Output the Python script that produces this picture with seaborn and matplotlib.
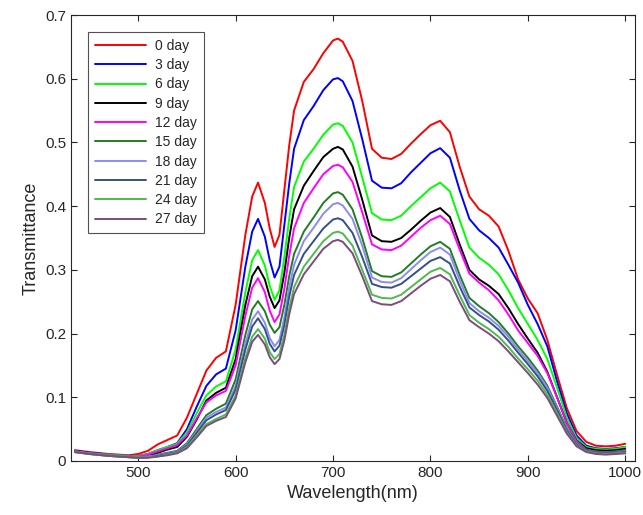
import pandas as pd
import matplotlib
matplotlib.use("Agg")
import matplotlib.pyplot as plt
import seaborn as sns

#data
wavelength = [435, 450, 470, 490, 500, 510, 520, 530, 540, 550,
              560, 570, 580, 590, 600, 610, 617, 623, 630, 635,
              640, 645, 650, 655, 660, 670, 680, 690, 700, 705,
              710, 720, 730, 740, 750, 760, 770, 780, 790, 800,
              810, 820, 830, 840, 850, 860, 870, 880, 890, 900,
              910, 920, 930, 940, 950, 960, 970, 980, 990, 1000]

day0 = [0.017, 0.014, 0.011, 0.009, 0.011, 0.016, 0.026, 0.033, 0.040, 0.068,
        0.105, 0.142, 0.162, 0.172, 0.245, 0.355, 0.415, 0.437, 0.405, 0.365,
        0.336, 0.355, 0.425, 0.495, 0.550, 0.595, 0.615, 0.640, 0.660, 0.663,
        0.658, 0.628, 0.565, 0.490, 0.476, 0.474, 0.482, 0.498, 0.513, 0.527,
        0.534, 0.516, 0.462, 0.415, 0.395, 0.385, 0.368, 0.330, 0.285, 0.255,
        0.232, 0.190, 0.135, 0.083, 0.047, 0.030, 0.024, 0.023, 0.024, 0.027]
day3 = [0.016, 0.013, 0.010, 0.008, 0.008, 0.011, 0.017, 0.022, 0.028, 0.050,
        0.085, 0.118, 0.136, 0.145, 0.205, 0.305, 0.360, 0.380, 0.352, 0.315,
        0.288, 0.305, 0.370, 0.435, 0.490, 0.535, 0.557, 0.582, 0.599, 0.601,
        0.596, 0.565, 0.505, 0.440, 0.429, 0.428, 0.436, 0.453, 0.468, 0.483,
        0.491, 0.476, 0.425, 0.380, 0.362, 0.350, 0.335, 0.308, 0.280, 0.245,
        0.215, 0.180, 0.125, 0.075, 0.040, 0.024, 0.020, 0.019, 0.020, 0.022]
day6 = [0.015, 0.012, 0.010, 0.008, 0.008, 0.011, 0.017, 0.022, 0.027, 0.045,
        0.075, 0.103, 0.117, 0.125, 0.175, 0.265, 0.315, 0.331, 0.307, 0.275,
        0.253, 0.268, 0.320, 0.380, 0.430, 0.470, 0.490, 0.512, 0.528, 0.530,
        0.526, 0.500, 0.445, 0.389, 0.379, 0.378, 0.385, 0.400, 0.414, 0.428,
        0.437, 0.423, 0.378, 0.335, 0.319, 0.308, 0.293, 0.268, 0.240, 0.215,
        0.190, 0.160, 0.115, 0.068, 0.036, 0.022, 0.019, 0.018, 0.019, 0.022]
day9 = [0.015, 0.012, 0.009, 0.007, 0.006, 0.008, 0.013, 0.018, 0.022, 0.038,
        0.065, 0.095, 0.107, 0.115, 0.160, 0.245, 0.290, 0.305, 0.285, 0.258,
        0.240, 0.252, 0.295, 0.350, 0.395, 0.432, 0.455, 0.477, 0.490, 0.493,
        0.489, 0.462, 0.410, 0.354, 0.345, 0.344, 0.350, 0.363, 0.377, 0.390,
        0.397, 0.383, 0.340, 0.300, 0.285, 0.275, 0.262, 0.240, 0.215, 0.192,
        0.170, 0.140, 0.100, 0.060, 0.032, 0.020, 0.017, 0.016, 0.017, 0.019]
day12 = [0.015, 0.012, 0.009, 0.007, 0.007, 0.010, 0.015, 0.020, 0.025, 0.040,
         0.067, 0.092, 0.103, 0.110, 0.150, 0.228, 0.272, 0.287, 0.265, 0.236,
         0.218, 0.230, 0.270, 0.322, 0.365, 0.405, 0.428, 0.450, 0.463, 0.465,
         0.461, 0.438, 0.390, 0.340, 0.332, 0.331, 0.338, 0.352, 0.366, 0.378,
         0.385, 0.372, 0.332, 0.294, 0.280, 0.268, 0.252, 0.230, 0.205, 0.185,
         0.165, 0.138, 0.100, 0.060, 0.031, 0.018, 0.015, 0.014, 0.015, 0.017]
day15 = [0.015, 0.012, 0.009, 0.007, 0.006, 0.007, 0.010, 0.013, 0.016, 0.028,
         0.050, 0.072, 0.082, 0.090, 0.128, 0.198, 0.238, 0.251, 0.235, 0.214,
         0.201, 0.210, 0.245, 0.290, 0.325, 0.360, 0.382, 0.405, 0.420, 0.422,
         0.418, 0.395, 0.350, 0.298, 0.290, 0.289, 0.296, 0.310, 0.324, 0.337,
         0.344, 0.333, 0.292, 0.256, 0.243, 0.232, 0.218, 0.200, 0.180, 0.162,
         0.142, 0.118, 0.085, 0.052, 0.028, 0.017, 0.014, 0.013, 0.014, 0.016]
day18 = [0.015, 0.012, 0.009, 0.007, 0.006, 0.007, 0.009, 0.012, 0.015, 0.026,
         0.047, 0.068, 0.077, 0.084, 0.118, 0.184, 0.222, 0.235, 0.217, 0.193,
         0.180, 0.190, 0.225, 0.272, 0.308, 0.345, 0.366, 0.388, 0.403, 0.405,
         0.401, 0.380, 0.338, 0.288, 0.281, 0.280, 0.287, 0.301, 0.315, 0.328,
         0.335, 0.324, 0.284, 0.248, 0.235, 0.225, 0.212, 0.195, 0.175, 0.157,
         0.138, 0.115, 0.083, 0.050, 0.027, 0.016, 0.013, 0.012, 0.013, 0.015]
day21 = [0.014, 0.011, 0.008, 0.006, 0.005, 0.006, 0.008, 0.011, 0.014, 0.024,
         0.044, 0.064, 0.073, 0.080, 0.112, 0.175, 0.211, 0.224, 0.207, 0.184,
         0.172, 0.181, 0.213, 0.258, 0.292, 0.325, 0.345, 0.365, 0.379, 0.381,
         0.378, 0.358, 0.320, 0.278, 0.273, 0.272, 0.278, 0.290, 0.302, 0.314,
         0.320, 0.310, 0.274, 0.241, 0.229, 0.219, 0.206, 0.189, 0.170, 0.152,
         0.133, 0.110, 0.080, 0.048, 0.026, 0.016, 0.013, 0.012, 0.013, 0.014]
day24 = [0.014, 0.011, 0.008, 0.006, 0.005, 0.006, 0.007, 0.010, 0.013, 0.022,
         0.040, 0.058, 0.066, 0.073, 0.103, 0.162, 0.195, 0.207, 0.192, 0.171,
         0.160, 0.168, 0.198, 0.240, 0.273, 0.305, 0.325, 0.345, 0.358, 0.360,
         0.357, 0.338, 0.300, 0.261, 0.256, 0.255, 0.261, 0.273, 0.285, 0.297,
         0.303, 0.293, 0.260, 0.229, 0.217, 0.207, 0.195, 0.179, 0.161, 0.144,
         0.126, 0.104, 0.075, 0.045, 0.024, 0.015, 0.012, 0.011, 0.012, 0.013]
day27 = [0.014, 0.011, 0.008, 0.006, 0.005, 0.005, 0.007, 0.009, 0.012, 0.020,
         0.037, 0.055, 0.063, 0.069, 0.098, 0.155, 0.187, 0.198, 0.183, 0.163,
         0.152, 0.160, 0.189, 0.230, 0.262, 0.293, 0.313, 0.333, 0.345, 0.347,
         0.344, 0.326, 0.290, 0.251, 0.246, 0.245, 0.251, 0.263, 0.275, 0.286,
         0.292, 0.282, 0.250, 0.221, 0.210, 0.200, 0.188, 0.172, 0.155, 0.138,
         0.120, 0.099, 0.071, 0.043, 0.023, 0.014, 0.011, 0.010, 0.011, 0.012]

labels = ['0 day', '3 day', '6 day', '9 day', '12 day',
          '15 day', '18 day', '21 day', '24 day', '27 day']
series = [day0, day3, day6, day9, day12, day15, day18, day21, day24, day27]
colors = ['#ff0000', '#0000ff', '#00ff00', '#000000', '#ff00ff',
          '#217d21', '#8c8cf0', '#34508c', '#4cbb4c', '#7d4b7d']

#long format for seaborn
frames = []
for lab, vals in zip(labels, series):
    frames.append(pd.DataFrame({'wl': wavelength, 'T': vals, 'day': lab}))
df = pd.concat(frames, ignore_index=True)

sns.set_style('ticks')
plt.rcParams['font.family'] = ['Liberation Sans', 'DejaVu Sans']

fig = plt.figure(figsize=(6.43, 5.15), dpi=100)
ax = fig.add_axes([71/643, 54/515, 564/643, 446/515])
sns.lineplot(data=df, x='wl', y='T', hue='day', hue_order=labels,
             palette=colors, linewidth=1.4, ax=ax, legend=True)

ax.set_xlim(431, 1010)
ax.set_ylim(0, 0.7)
ax.set_xticks([500, 600, 700, 800, 900, 1000])
ax.set_yticks([0, 0.1, 0.2, 0.3, 0.4, 0.5, 0.6, 0.7])
ax.set_yticklabels(['0', '0.1', '0.2', '0.3', '0.4', '0.5', '0.6', '0.7'])
ax.set_xlabel('Wavelength(nm)', fontsize=13, color='#262626')
ax.set_ylabel('Transmittance', fontsize=13, color='#262626')
ax.tick_params(direction='in', top=True, right=True, length=4,
               labelsize=11, colors='#262626', width=0.8)
for s in ax.spines.values():
    s.set_color('#262626')
    s.set_linewidth(0.8)

leg = ax.legend(loc='upper left', bbox_to_anchor=(0.03, 0.962),
                fontsize=10, frameon=True, fancybox=False,
                handlelength=3.7, labelspacing=0.38, borderpad=0.5,
                handletextpad=0.6, borderaxespad=0)
leg.get_frame().set_edgecolor('#262626')
leg.get_frame().set_linewidth(0.8)
for h in leg.get_lines():
    h.set_linewidth(1.4)

plt.savefig('out.png', dpi=100)
